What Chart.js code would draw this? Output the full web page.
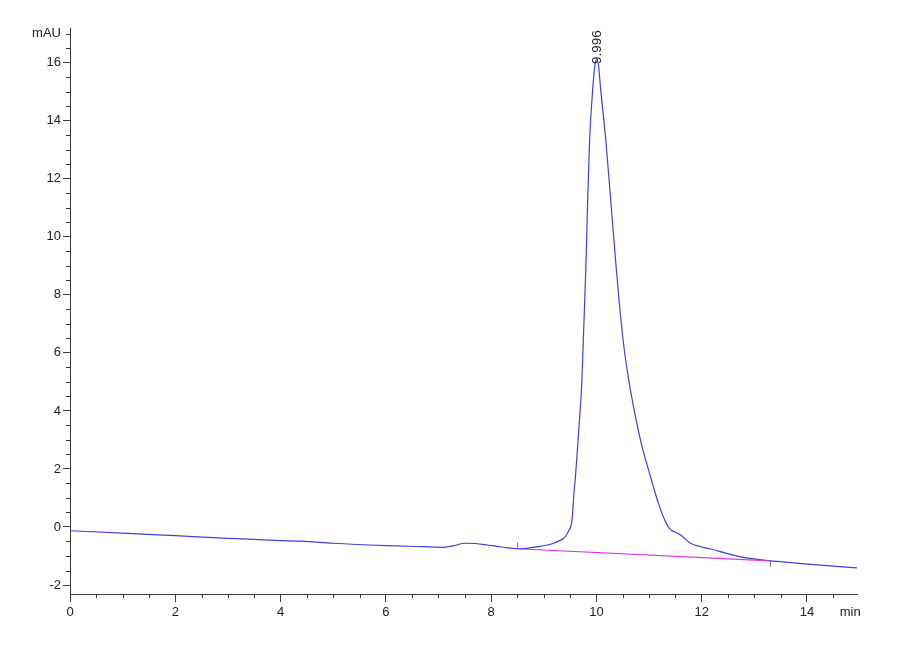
<!DOCTYPE html>
<html><head><meta charset="utf-8">
<style>html,body{margin:0;padding:0;background:#fff}#wrap{width:900px;height:660px;position:relative}</style>
<script src="https://cdn.jsdelivr.net/npm/chart.js@4/dist/chart.umd.min.js"></script>
</head><body><div id="wrap"><canvas id="c" width="900" height="660"></canvas></div>
<script>
// Retention times (min) and detector signal (mAU)
const times = [0, 1, 2, 3, 4, 4.4, 5, 6, 6.7, 7.1, 7.3, 7.5, 7.7, 7.93, 8.2, 8.5, 8.7, 8.88, 9.05, 9.19, 9.3, 9.38, 9.44, 9.48, 9.51, 9.54, 9.57, 9.6, 9.625, 9.67, 9.72, 9.76, 9.8, 9.83, 9.87, 9.93, 9.97, 10.0, 10.04, 10.08, 10.18, 10.27, 10.35, 10.43, 10.53, 10.62, 10.71, 10.85, 11.0, 11.2, 11.32, 11.41, 11.5, 11.6, 11.79, 11.98, 12.17, 12.45, 12.74, 13.0, 13.32, 13.7, 14.02, 14.5, 14.95];
const signal = [-0.13, -0.21, -0.30, -0.39, -0.47, -0.49, -0.56, -0.64, -0.68, -0.70, -0.64, -0.56, -0.57, -0.62, -0.69, -0.75, -0.73, -0.68, -0.63, -0.56, -0.47, -0.39, -0.25, -0.10, 0.0, 0.3, 1.1, 1.7, 2.3, 3.5, 4.9, 6.9, 9.0, 11.0, 13.3, 15.1, 15.9, 16.1, 15.9, 15.1, 13.3, 11.3, 9.5, 7.8, 6.1, 5.0, 4.1, 2.9, 1.9, 0.7, 0.15, -0.1, -0.18, -0.28, -0.56, -0.68, -0.76, -0.9, -1.03, -1.10, -1.17, -1.23, -1.28, -1.35, -1.41];
// Integration baseline
const baselineTimes = [8.5, 13.3];
const baselineValues = [-0.75, -1.17];
// Peak annotation
const peakTime = 9.996;
const peakValue = 16.1;
const peakLabel = '9.996';
// Axis ranges and tick labels
const xMin = 0, xMax = 14.95, yMin = -2.31, yMax = 17.2;
const xTickValues = [0,0.5,1,1.5,2,2.5,3,3.5,4,4.5,5,5.5,6,6.5,7,7.5,8,8.5,9,9.5,10,10.5,11,11.5,12,12.5,13,13.5,14,14.5];
const xMajorTicks = [0,2,4,6,8,10,12,14];
const xUnitTick = 14.82, xUnitLabel = 'min';
const yTickValues = [-2,-1.5,-1,-0.5,0,0.5,1,1.5,2,2.5,3,3.5,4,4.5,5,5.5,6,6.5,7,7.5,8,8.5,9,9.5,10,10.5,11,11.5,12,12.5,13,13.5,14,14.5,15,15.5,16,16.5,17];
const yMajorTicks = [-2,0,2,4,6,8,10,12,14,16];
const yUnitTick = 17, yUnitLabel = 'mAU';

const axisColor = '#3a3a3a';
const labelFont = {family: "'Liberation Sans Narrow','Arial Narrow','Liberation Sans',Arial,sans-serif", size: 13};
const isIn = (arr, v) => arr.some(a => Math.abs(a - v) < 1e-6);

const extras = {
  id: 'extras',
  afterDraw(chart) {
    const ctx = chart.ctx, xs = chart.scales.x, ys = chart.scales.y;
    ctx.save();
    // minor ticks
    ctx.strokeStyle = axisColor; ctx.lineWidth = 1;
    ctx.beginPath();
    xTickValues.forEach(v => {
      if (isIn(xMajorTicks, v)) return;
      const px = Math.round(xs.getPixelForValue(v)) + 0.5;
      ctx.moveTo(px, ys.bottom); ctx.lineTo(px, ys.bottom + 4);
    });
    yTickValues.forEach(v => {
      if (isIn(yMajorTicks, v)) return;
      const py = Math.round(ys.getPixelForValue(v)) + 0.5;
      ctx.moveTo(xs.left, py); ctx.lineTo(xs.left - 4, py);
    });
    ctx.stroke();
    // baseline start/end markers
    ctx.strokeStyle = '#777';
    ctx.beginPath();
    const bx0 = Math.round(xs.getPixelForValue(baselineTimes[0])) + 0.5;
    const by0 = ys.getPixelForValue(baselineValues[0]);
    ctx.moveTo(bx0, by0 - 6); ctx.lineTo(bx0, by0);
    const bx1 = Math.round(xs.getPixelForValue(baselineTimes[1])) + 0.5;
    const by1 = ys.getPixelForValue(baselineValues[1]);
    ctx.moveTo(bx1, by1); ctx.lineTo(bx1, by1 + 6);
    ctx.stroke();
    // peak label
    ctx.translate(xs.getPixelForValue(peakTime) + 1, ys.getPixelForValue(peakValue) + 4);
    ctx.rotate(-Math.PI / 2);
    ctx.fillStyle = '#1a1a2a';
    ctx.font = "13.5px 'Liberation Sans', Arial, sans-serif";
    ctx.textAlign = 'left';
    ctx.textBaseline = 'middle';
    ctx.fillText(peakLabel, 0, 0);
    ctx.restore();
  }
};

new Chart(document.getElementById('c'), {
  type: 'line',
  data: {
    datasets: [
      {
        label: 'baseline',
        data: baselineTimes.map((t, i) => ({x: t, y: baselineValues[i]})),
        borderColor: '#e030e0', borderWidth: 1.2, pointRadius: 0, fill: false
      },
      {
        label: 'signal',
        data: times.map((t, i) => ({x: t, y: signal[i]})),
        borderColor: '#4040da', borderWidth: 1.2, pointRadius: 0, fill: false,
        cubicInterpolationMode: 'monotone'
      }
    ]
  },
  options: {
    responsive: false, animation: false, devicePixelRatio: 1,
    layout: {padding: {left: 0, top: 28, right: 43, bottom: 0}},
    plugins: {legend: {display: false}, tooltip: {enabled: false}},
    scales: {
      x: {
        type: 'linear', position: 'bottom', min: xMin, max: xMax,
        border: {display: true, color: axisColor, width: 1},
        grid: {display: true, drawOnChartArea: false, drawTicks: true, tickLength: 8,
          tickColor: c => (c.tick && isIn(xMajorTicks, c.tick.value)) ? axisColor : 'rgba(0,0,0,0)'},
        afterBuildTicks: s => { s.ticks = xTickValues.concat([xUnitTick]).map(v => ({value: v})); },
        afterFit: s => { s.height = 66; },
        ticks: {
          autoSkip: false, maxRotation: 0, minRotation: 0, padding: 3, color: '#222', font: labelFont,
          callback: v => Math.abs(v - xUnitTick) < 1e-6 ? xUnitLabel : (isIn(xMajorTicks, v) ? String(v) : '')
        }
      },
      y: {
        type: 'linear', position: 'left', min: yMin, max: yMax,
        border: {display: true, color: axisColor, width: 1},
        grid: {display: true, drawOnChartArea: false, drawTicks: true, tickLength: 7,
          tickColor: c => (c.tick && isIn(yMajorTicks, c.tick.value)) ? axisColor : 'rgba(0,0,0,0)'},
        afterBuildTicks: s => { s.ticks = yTickValues.map(v => ({value: v})); },
        afterFit: s => { s.width = 70; },
        ticks: {
          autoSkip: false, padding: 2, color: '#222', font: labelFont,
          callback: v => Math.abs(v - yUnitTick) < 1e-6 ? yUnitLabel : (isIn(yMajorTicks, v) ? String(v) : '')
        }
      }
    }
  },
  plugins: [extras]
});
</script>
</body></html>
